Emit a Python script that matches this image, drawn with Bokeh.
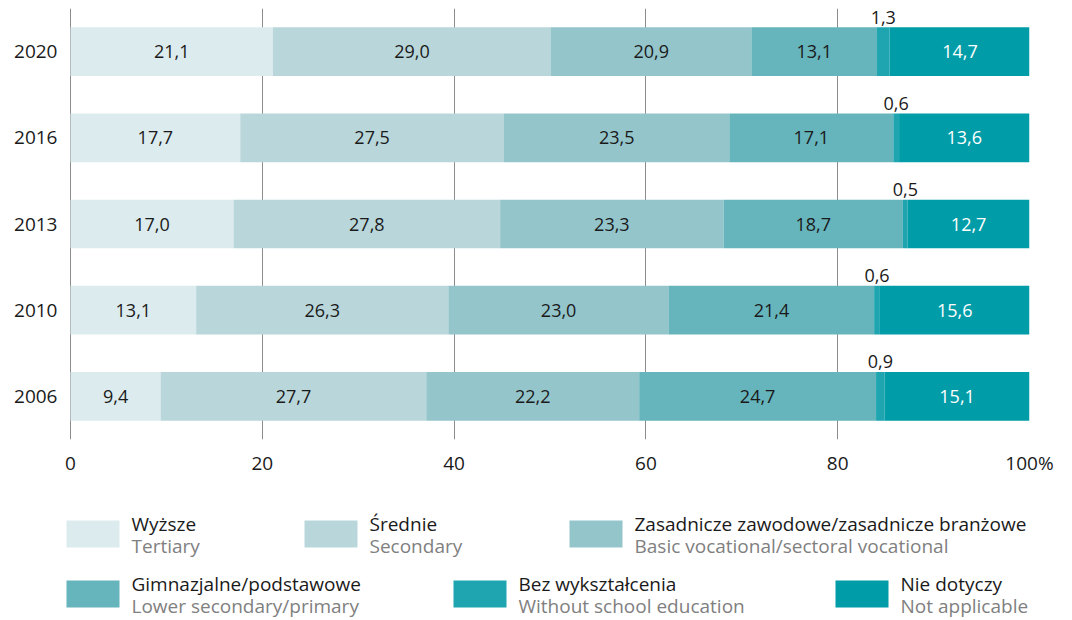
from bokeh.plotting import figure
from bokeh.models import ColumnDataSource, FactorRange, Range1d, FixedTicker
from bokeh.layouts import column
from bokeh.transform import dodge
from bokeh.core.properties import value
from bokeh.embed import file_html
from bokeh.resources import INLINE

# ---- data ----
years = ["2020", "2016", "2013", "2010", "2006"]
tertiary = [21.1, 17.7, 17.0, 13.1, 9.4]
secondary = [29.0, 27.5, 27.8, 26.3, 27.7]
basic_voc = [20.9, 23.5, 23.3, 23.0, 22.2]
lower_sec = [13.1, 17.1, 18.7, 21.4, 24.7]
without_edu = [1.3, 0.6, 0.5, 0.6, 0.9]
not_applicable = [14.7, 13.6, 12.7, 15.6, 15.1]

series_keys = ["tertiary", "secondary", "basic_voc", "lower_sec", "without_edu", "not_applicable"]
series_vals = [tertiary, secondary, basic_voc, lower_sec, without_edu, not_applicable]
series_pl = ["Wyższe", "Średnie", "Zasadnicze zawodowe/zasadnicze branżowe",
             "Gimnazjalne/podstawowe", "Bez wykształcenia", "Nie dotyczy"]
series_en = ["Tertiary", "Secondary", "Basic vocational/sectoral vocational",
             "Lower secondary/primary", "Without school education", "Not applicable"]
colors = ["#dcebee", "#b9d7db", "#94c5cb", "#66b4bc", "#1fa5b0", "#009ca8"]

x_ticks = [0, 20, 40, 60, 80, 100]
x_tick_labels = ["0", "20", "40", "60", "80", "100%"]

FONT = "Open Sans"
BLACK = "#1a1a1a"
GREY = "#808080"

# ---- layout constants (pixels) ----
W = 1072
FRAME_L, FRAME_R = 60, 43          # borders around the plotting frame
ZERO_PAD = 10                      # pixels between frame edge and x = 0
MAIN_H, TOP, BOTTOM = 478, 8, 35
LEG_H = 620 - MAIN_H
frame_w = W - FRAME_L - FRAME_R

# ---- source ----
data = {"year": years}
cum = [0.0] * len(years)
for k, vals in zip(series_keys, series_vals):
    data[k] = vals
    data["mid_" + k] = [c + v / 2 for c, v in zip(cum, vals)]
    data["lab_" + k] = [f"{v:.1f}".replace(".", ",") for v in vals]
    cum = [c + v for c, v in zip(cum, vals)]
src = ColumnDataSource(data)

# ---- main chart ----
x_start = -ZERO_PAD * 100.0 / (frame_w - ZERO_PAD)
p = figure(width=W, height=MAIN_H,
           y_range=FactorRange(factors=years[::-1], range_padding=0),
           x_range=Range1d(x_start, 100),
           output_backend="svg", toolbar_location=None,
           min_border_left=FRAME_L, min_border_right=FRAME_R,
           min_border_top=TOP, min_border_bottom=BOTTOM)
p.outline_line_color = None

p.hbar_stack(series_keys, y="year", height=0.565, color=colors, source=src, line_color=None)

for k in series_keys:
    if k == "without_edu":
        p.text(x="mid_" + k, y=dodge("year", 0.40, range=p.y_range), text="lab_" + k, source=src,
               text_align="center", text_baseline="middle", text_color=BLACK,
               text_font=value(FONT), text_font_size="18px")
    else:
        p.text(x="mid_" + k, y="year", text="lab_" + k, source=src,
               text_align="center", text_baseline="middle",
               text_color="white" if k == "not_applicable" else BLACK,
               text_font=value(FONT), text_font_size="18px")

p.xgrid.ticker = FixedTicker(ticks=x_ticks)
p.xgrid.grid_line_color = "#8c8c8c"
p.xgrid.grid_line_width = 1
p.ygrid.grid_line_color = None

p.xaxis.ticker = FixedTicker(ticks=x_ticks)
p.xaxis.major_label_overrides = {t: l for t, l in zip(x_ticks, x_tick_labels)}
for ax in (p.xaxis[0], p.yaxis[0]):
    ax.axis_line_color = None
    ax.major_tick_line_color = None
    ax.minor_tick_line_color = None
    ax.major_tick_out = 0
    ax.major_tick_in = 0
    ax.minor_tick_out = 0
    ax.minor_tick_in = 0
    ax.major_label_text_font = FONT
    ax.major_label_text_font_size = "19px"
    ax.major_label_text_color = BLACK
p.xaxis.major_label_standoff = 10
p.yaxis.major_label_standoff = 3

# ---- legend (separate figure, data units = page pixels) ----
leg = figure(width=W, height=LEG_H,
             x_range=Range1d(FRAME_L, W - FRAME_R), y_range=Range1d(620, MAIN_H),
             output_backend="svg", toolbar_location=None,
             min_border_left=FRAME_L, min_border_right=FRAME_R,
             min_border_top=0, min_border_bottom=0)
leg.outline_line_color = None
leg.xaxis.visible = False
leg.yaxis.visible = False
leg.xgrid.visible = False
leg.ygrid.visible = False

col_x = [66, 304, 569, 66, 453, 835]     # swatch left edges
row_y = [520, 520, 520, 580, 580, 580]   # swatch top edges
sw_w, sw_h = 53, 27
lsrc = ColumnDataSource(dict(
    left=col_x, right=[x + sw_w for x in col_x],
    top=row_y, bottom=[y + sw_h for y in row_y],
    tx=[x + 65 for x in col_x],
    ty1=[y + 3 for y in row_y], ty2=[y + 25 for y in row_y],
    pl=series_pl, en=series_en, color=colors))
leg.quad(left="left", right="right", top="top", bottom="bottom", color="color",
         line_color=None, source=lsrc)
leg.text(x="tx", y="ty1", text="pl", source=lsrc, text_baseline="alphabetic",
         text_color=BLACK, text_font=value(FONT), text_font_size="19px")
leg.text(x="tx", y="ty2", text="en", source=lsrc, text_baseline="alphabetic",
         text_color=GREY, text_font=value(FONT), text_font_size="19px")

layout = column(p, leg, spacing=0)
open("out.html", "w").write(file_html(layout, INLINE))
